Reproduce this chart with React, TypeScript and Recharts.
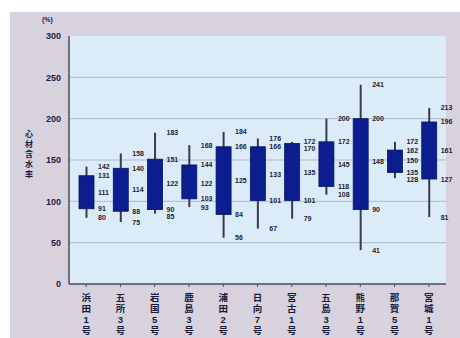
import React from 'react';
import { ComposedChart, Bar, XAxis, YAxis, CartesianGrid } from 'recharts';

// 各試料の心材含水率 (%) : 最大・上位四分位・中央値・下位四分位・最小
const samples = ['浜田1号', '五所3号', '岩国5号', '鹿島3号', '浦田2号', '日向7号', '宮古1号', '五島3号', '熊野1号', '那賀5号', '宮城1号'];
const maxValues = [142, 158, 183, 168, 184, 176, 172, 200, 241, 172, 213];
const q3Values = [131, 140, 151, 144, 166, 166, 170, 172, 200, 162, 196];
const medianValues = [111, 114, 122, 122, 125, 133, 135, 145, 148, 150, 161];
const q1Values = [91, 88, 90, 103, 84, 101, 101, 118, 90, 135, 127];
const minValues = [80, 75, 85, 93, 56, 67, 79, 108, 41, 128, 81];
const yTicks = [0, 50, 100, 150, 200, 250, 300];

const data = samples.map((name, i) => ({
  name,
  max: maxValues[i],
  q3: q3Values[i],
  median: medianValues[i],
  q1: q1Values[i],
  min: minValues[i],
  range: [minValues[i], maxValues[i]],
}));

const FONT = '"Liberation Sans", "Noto Sans CJK JP", sans-serif';
const INK = '#1c1c3a';

const BoxShape = (props: any) => {
  const { x, y, width, height, payload } = props;
  const { max, q3, median, q1, min } = payload;
  const perUnit = height / (max - min);
  const toY = (v: number) => y + (max - v) * perUnit;
  const cx = x + width / 2;

  // keep stacked value labels from overlapping
  const values = [max, q3, median, q1, min];
  const labelYs: number[] = [];
  values.forEach((v, i) => {
    let ly = toY(v);
    if (i > 0 && ly < labelYs[i - 1] + 7) ly = labelYs[i - 1] + 7;
    labelYs.push(ly);
  });

  return (
    <g>
      <line x1={cx} x2={cx} y1={toY(max)} y2={toY(min)} stroke="#3a3a4a" strokeWidth={2} />
      <rect x={x} y={toY(q3)} width={width} height={toY(q1) - toY(q3)} fill="#0b1d8f" stroke="#08156a" strokeWidth={0.8} />
      {values.map((v, i) => (
        <text key={i} x={x + width + 4} y={labelYs[i]} dy={2.5} fontSize={7} fontWeight="bold" fill={INK} fontFamily={FONT}>
          {v}
        </text>
      ))}
    </g>
  );
};

const VerticalTick = (props: any) => {
  const { x, y, payload } = props;
  const chars = Array.from(String(payload.value));
  return (
    <g>
      {chars.map((c, i) => (
        <text key={i} x={x} y={y + 12 + i * 11} textAnchor="middle" fontSize={9.5} fontWeight="bold" fill={INK} fontFamily={FONT}>
          {c}
        </text>
      ))}
    </g>
  );
};

export default function App() {
  return (
    <div style={{ position: 'absolute', left: 0, top: 0, width: 460, height: 338, background: '#ffffff', overflow: 'hidden' }}>
      <div style={{ position: 'absolute', left: 10, top: 12, width: 450, height: 326, background: '#d8d2df' }} />
      <div style={{ position: 'absolute', left: 0, top: 0 }}>
        <ComposedChart width={460} height={338} data={data} margin={{ top: 36, right: 14, bottom: 4, left: 39 }}>
          <CartesianGrid vertical={false} horizontal={true} stroke="#a9bbcd" strokeWidth={1} fill="#dbecf8" horizontalValues={[50, 100, 150, 200, 250]} />
          <XAxis
            dataKey="name"
            height={50}
            interval={0}
            tick={<VerticalTick />}
            tickSize={3}
            axisLine={{ stroke: '#4a4a5a', strokeWidth: 1.5 }}
            tickLine={{ stroke: '#4a4a5a' }}
          />
          <YAxis
            width={30}
            domain={[0, 300]}
            ticks={yTicks}
            tickLine={false}
            axisLine={{ stroke: '#4a4a5a', strokeWidth: 1.5 }}
            tick={{ fontSize: 9, fontWeight: 'bold', fill: INK, fontFamily: FONT }}
          />
          <Bar dataKey="range" barSize={15} shape={<BoxShape />} isAnimationActive={false} />
        </ComposedChart>
      </div>
      <div style={{ position: 'absolute', left: 42, top: 16, fontSize: 7, fontWeight: 'bold', color: INK, fontFamily: FONT }}>(%)</div>
      <div style={{ position: 'absolute', left: 24, top: 130, width: 10, fontSize: 8, lineHeight: '10px', fontWeight: 'bold', color: INK, fontFamily: FONT, textAlign: 'center' }}>
        {'心材含水率'.split('').map((c, i) => (
          <div key={i}>{c}</div>
        ))}
      </div>
    </div>
  );
}
